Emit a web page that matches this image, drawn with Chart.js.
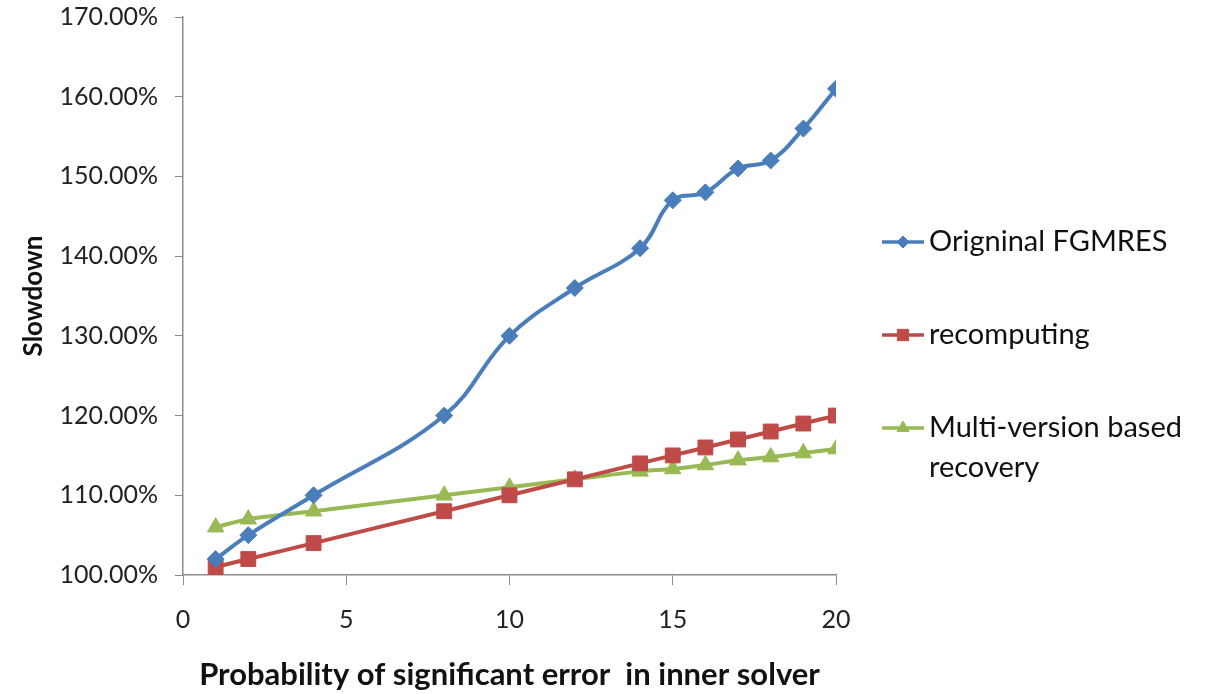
<!DOCTYPE html>
<html>
<head>
<meta charset="utf-8">
<script src="https://cdn.jsdelivr.net/npm/chart.js@4"></script>
<style>
html,body{margin:0;padding:0;background:#fff;}
#wrap{width:1209px;height:694px;}
</style>
</head>
<body>
<div id="wrap"><canvas id="c" width="1209" height="694"></canvas></div>
<script>
const xValues = [1, 2, 4, 8, 10, 12, 14, 15, 16, 17, 18, 19, 20];
const originalFGMRES = [102, 105, 110, 120, 130, 136, 141, 147, 148, 151, 152, 156, 161];
const recomputing = [101, 102, 104, 108, 110, 112, 114, 115, 116, 117, 118, 119, 120];
const multiVersion = [106, 107, 108, 110, 111, 112, 113, 113.3, 113.8, 114.4, 114.8, 115.3, 115.8];
const seriesNames = ['Origninal FGMRES', 'recomputing', ['Multi-version based', 'recovery']];
const xTitle = 'Probability of significant error  in inner solver';
const yTitle = 'Slowdown';

const FONT = 'Lato, "Open Sans", sans-serif';
const colors = ['#4A7EBB', '#BE4B48', '#98B954'];
const styles = ['rectRot', 'rect', 'triangle'];
const radii = [8.5, 10.5, 9.5];
const legendRadii = [6, 8, 7];

function pts(ys){ return xValues.map((x,i)=>({x:x, y:ys[i]})); }

const legendPlugin = {
  id: 'sideLegend',
  afterDraw(chart){
    const ctx = chart.ctx;
    const ys = [242, 335, 428];
    ctx.save();
    ctx.font = '29px ' + FONT;
    ctx.textBaseline = 'middle';
    chart.data.datasets.forEach((ds, i) => {
      const y = ys[i];
      ctx.strokeStyle = ds.borderColor;
      ctx.lineWidth = 3.5;
      ctx.beginPath(); ctx.moveTo(882, y); ctx.lineTo(924, y); ctx.stroke();
      ctx.fillStyle = ds.borderColor;
      ctx.lineWidth = 1;
      Chart.helpers.drawPoint(ctx, {pointStyle: ds.pointStyle, radius: legendRadii[i], borderWidth: 1}, 903, y);
      ctx.fillStyle = '#111';
      const lines = Array.isArray(seriesNames[i]) ? seriesNames[i] : [seriesNames[i]];
      lines.forEach((t, k) => ctx.fillText(t, 929, y + k * 40));
    });
    ctx.restore();
  }
};

new Chart(document.getElementById('c'), {
  type: 'line',
  data: {
    datasets: [
      {label: 'Origninal FGMRES', data: pts(originalFGMRES), borderColor: colors[0], backgroundColor: colors[0], pointStyle: styles[0], pointRadius: radii[0], pointBorderWidth: 1, borderWidth: 4, tension: 0.4},
      {label: 'recomputing', data: pts(recomputing), borderColor: colors[1], backgroundColor: colors[1], pointStyle: styles[1], pointRadius: radii[1], pointBorderWidth: 1, borderWidth: 4, tension: 0.3},
      {label: 'Multi-version based recovery', data: pts(multiVersion), borderColor: colors[2], backgroundColor: colors[2], pointStyle: styles[2], pointRadius: radii[2], pointBorderWidth: 1, borderWidth: 4, tension: 0.3}
    ]
  },
  options: {
    responsive: false,
    animation: false,
    layout: {padding: {left: 18, top: 17, right: 373, bottom: 0}},
    plugins: {legend: {display: false}, tooltip: {enabled: false}},
    scales: {
      x: {
        type: 'linear', min: 0, max: 20,
        ticks: {stepSize: 5, color: '#222', font: {family: FONT, size: 25}, padding: 20},
        grid: {drawOnChartArea: false, drawTicks: true, tickLength: 10, color: '#8c8c8c'},
        border: {color: '#8c8c8c', width: 1.5},
        title: {display: true, text: xTitle, color: '#111', font: {family: FONT, size: 31, weight: 'bold'}, padding: {top: 0, bottom: 0}},
        afterFit(s){ s.height = 694 - 575; s.paddingLeft = 0; s.paddingRight = 0; }
      },
      y: {
        type: 'linear', min: 100, max: 170,
        ticks: {stepSize: 10, color: '#222', font: {family: FONT, size: 25}, padding: 17,
          callback: v => v.toFixed(2) + '%'},
        grid: {drawOnChartArea: false, drawTicks: true, tickLength: 8, color: '#8c8c8c'},
        border: {color: '#8c8c8c', width: 1.5},
        title: {display: true, text: yTitle, color: '#111', font: {family: FONT, size: 26, weight: 'bold'}, padding: {top: 0, bottom: 0}},
        afterFit(s){ s.width = 183 - 18; s.paddingTop = 0; s.paddingBottom = 0; }
      }
    }
  },
  plugins: [legendPlugin]
});
</script>
</body>
</html>
